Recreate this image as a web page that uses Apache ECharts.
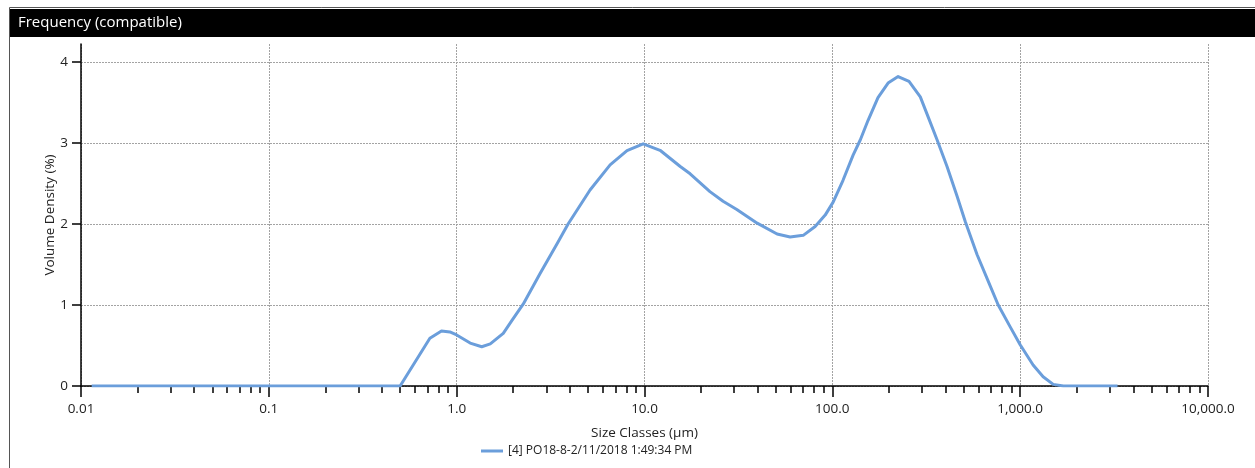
<!DOCTYPE html>
<html>
<head>
<meta charset="utf-8">
<title>Frequency (compatible)</title>
<script src="https://cdn.jsdelivr.net/npm/echarts@6/dist/echarts.min.js"></script>
<style>
  html, body { margin: 0; padding: 0; background: #fff; }
  #chart { width: 1255px; height: 468px; }
</style>
</head>
<body>
<div id="chart"></div>
<script>
// Particle size classes (µm) and measured volume density (%)
const sizeClasses = [
  0.0114, 0.02, 0.05, 0.1, 0.2, 0.3, 0.4, 0.5,
  0.72, 0.83, 0.92, 1.0, 1.18, 1.36, 1.51, 1.77, 1.97, 2.26,
  2.78, 3.43, 3.92, 5.13, 6.56, 8.07, 9.84, 12.1, 15.5, 17.5,
  22.3, 26.2, 31.0, 39.8, 50.8, 59.6, 70.0, 81.0, 91.6, 101,
  114, 129, 141, 155, 175, 198, 224, 256, 294, 324,
  361, 408, 462, 510, 590, 680, 764, 885, 1000, 1172, 1325,
  1500, 1700, 2000, 2600, 3300
];
const volumeDensity = [
  0, 0, 0, 0, 0, 0, 0, 0,
  0.59, 0.68, 0.667, 0.63, 0.53, 0.485, 0.52, 0.65, 0.81, 1.01,
  1.39, 1.76, 2.0, 2.42, 2.73, 2.905, 2.99, 2.91, 2.71, 2.62,
  2.40, 2.28, 2.18, 2.01, 1.876, 1.84, 1.86, 1.97, 2.11, 2.27,
  2.54, 2.85, 3.04, 3.28, 3.56, 3.74, 3.82, 3.76, 3.57, 3.32,
  3.04, 2.71, 2.34, 2.03, 1.62, 1.28, 1.0, 0.73, 0.51, 0.26, 0.115,
  0.02, 0, 0, 0, 0
];

const seriesName = '[4] PO18-8-2/11/2018 1:49:34 PM';
const chartTitle = 'Frequency (compatible)';
const xAxisName = 'Size Classes (µm)';
const yAxisName = 'Volume Density (%)';

// Decade tick labels from 0.01 to 10,000
const xTickLabels = ['0.01', '0.1', '1.0', '10.0', '100.0', '1,000.0', '10,000.0'];
const yTickValues = [0, 1, 2, 3, 4];

// Minor ticks at 2..9 within each decade, expressed as log10 positions
const minorTickLogs = [];
for (let d = -2; d < 4; d++) {
  for (let m = 2; m <= 9; m++) minorTickLogs.push(d + Math.log10(m));
}

const FONT = "'Segoe UI', 'Open Sans', 'Noto Sans', sans-serif";
const lineColor = '#6b9edb';
const textColor = '#222';
const gridColor = '#a3a3a3';

const chart = echarts.init(document.getElementById('chart'), null, { renderer: 'canvas' });

chart.setOption({
  animation: false,
  backgroundColor: '#fff',
  textStyle: { fontFamily: FONT },
  graphic: [
    { type: 'rect', z: 0, shape: { x: 9.5, y: 7.5, width: 1260, height: 480 },
      style: { fill: 'none', stroke: '#555', lineWidth: 1 } },
    { type: 'rect', z: 1, shape: { x: 10, y: 9, width: 1245, height: 28 },
      style: { fill: '#000' } },
    { type: 'text', z: 2, x: 18, y: 23,
      style: { text: chartTitle, fill: '#fff', font: '15px ' + FONT, verticalAlign: 'middle' } }
  ],
  grid: { left: 81, right: 47, top: 44, bottom: 82, containLabel: false },
  legend: {
    left: 481, top: 445, padding: 0,
    itemWidth: 22, itemHeight: 3, itemGap: 6,
    textStyle: { fontSize: 12, color: textColor, fontFamily: FONT },
    data: [{ name: seriesName, icon: 'rect', itemStyle: { color: lineColor } }],
    itemStyle: { borderWidth: 0 }
  },
  xAxis: [
    {
      type: 'log', logBase: 10, min: 0.01, max: 10000,
      position: 'bottom',
      name: xAxisName, nameLocation: 'middle', nameGap: 40, nameMoveOverlap: false,
      nameTextStyle: { fontSize: 13.5, color: textColor, fontFamily: FONT },
      axisLine: { show: true, onZero: false, lineStyle: { color: '#000', width: 1.5 } },
      axisTick: { show: true, length: 11, lineStyle: { color: '#000', width: 1.5 } },
      minorTick: { show: false },
      axisLabel: {
        margin: 16, fontSize: 13.5, color: textColor, fontFamily: FONT,
        showMinLabel: true, showMaxLabel: true,
        formatter: v => xTickLabels[Math.round(Math.log10(v)) + 2]
      },
      splitLine: { show: true, lineStyle: { color: gridColor, type: [2, 1], width: 1 } }
    },
    {
      type: 'value', min: -2, max: 4,
      position: 'bottom',
      axisLine: { show: false, onZero: false },
      axisTick: { show: true, length: 7, customValues: minorTickLogs,
        lineStyle: { color: '#000', width: 1.5 } },
      axisLabel: { show: false },
      splitLine: { show: false }
    }
  ],
  yAxis: {
    type: 'value', min: 0, max: 4 + 18 / 81,
    position: 'left',
    name: yAxisName, nameLocation: 'middle', nameGap: 24, nameMoveOverlap: false,
    nameTextStyle: { fontSize: 13.5, color: textColor, fontFamily: FONT },
    axisLine: { show: true, onZero: false, lineStyle: { color: '#000', width: 1.5 } },
    axisTick: { show: true, length: 9, customValues: yTickValues,
      lineStyle: { color: '#000', width: 1.5 } },
    axisLabel: { customValues: yTickValues, margin: 13, fontSize: 13.5, color: textColor, fontFamily: FONT },
    splitLine: { show: true, lineStyle: { color: gridColor, type: [2, 1], width: 1 } }
  },
  series: [{
    name: seriesName,
    type: 'line',
    xAxisIndex: 0,
    data: sizeClasses.map((s, i) => [s, volumeDensity[i]]),
    showSymbol: false,
    symbol: 'none',
    smooth: false,
    lineStyle: { color: lineColor, width: 3, join: 'round' },
    itemStyle: { color: lineColor },
    z: 5
  }]
});
</script>
</body>
</html>
